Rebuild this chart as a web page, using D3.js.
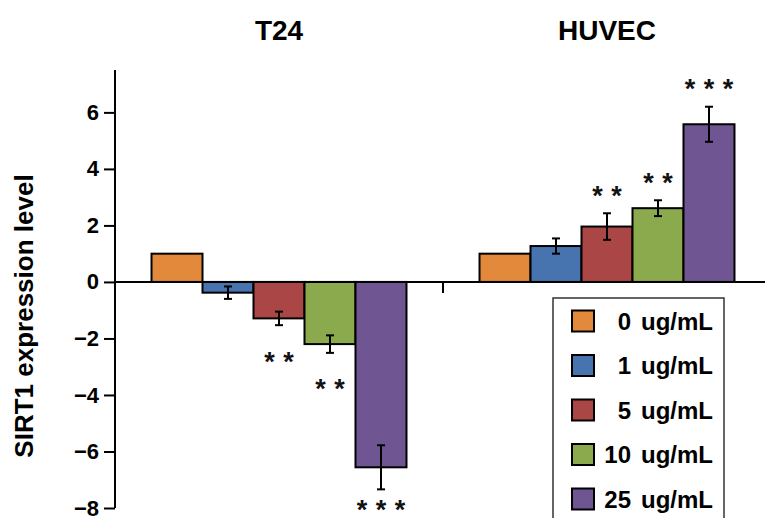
<!DOCTYPE html>
<html>
<head>
<meta charset="utf-8">
<script src="https://cdn.jsdelivr.net/npm/d3@7"></script>
<style>
  html, body { margin: 0; padding: 0; background: #fff; }
  svg { display: block; font-family: "Liberation Sans", Arial, sans-serif; }
</style>
</head>
<body>
<svg id="chart" width="765" height="518"></svg>
<script>
// Cell lines (groups) and treatment doses (series)
const cellLines = ["T24", "HUVEC"];
const doses = ["0", "1", "5", "10", "25"];
const doseUnit = "ug/mL";
const doseColors = ["#E2893C", "#4774AF", "#AA4645", "#8BA94D", "#6F5591"];

// SIRT1 expression level per dose, one array per cell line
const t24Values = [1.0, -0.38, -1.29, -2.2, -6.56];
const t24Errors = [0, 0.22, 0.24, 0.31, 0.78];
const t24Stars = ["", "", "**", "**", "***"];

const huvecValues = [1.0, 1.27, 1.96, 2.61, 5.58];
const huvecErrors = [0, 0.27, 0.47, 0.28, 0.62];
const huvecStars = ["", "", "**", "**", "***"];

const yTicks = [-8, -6, -4, -2, 0, 2, 4, 6];
const yLabel = "SIRT1 expression level";

const groups = [
  { name: "T24", values: t24Values, errors: t24Errors, stars: t24Stars },
  { name: "HUVEC", values: huvecValues, errors: huvecErrors, stars: huvecStars }
];

const W = 765, H = 518;
const svg = d3.select("#chart");

const plot = { left: 115, right: 771, top: 70, bottom: 508 };

const x0 = d3.scaleBand().domain(cellLines).range([plot.left, plot.right]).padding(0);
const x1 = d3.scaleBand().domain(doses).range([0, x0.bandwidth()])
  .paddingInner(0).paddingOuter(0.716);
const y = d3.scaleLinear().domain([-8, 7.5]).range([plot.bottom, plot.top]);

// Bars
const g = svg.append("g");
groups.forEach(grp => {
  const gx = x0(grp.name);
  const rows = doses.map((d, i) => ({
    dose: d, value: grp.values[i], err: grp.errors[i], star: grp.stars[i], color: doseColors[i]
  }));

  g.selectAll(null).data(rows).enter().append("rect")
    .attr("x", d => gx + x1(d.dose))
    .attr("width", x1.bandwidth())
    .attr("y", d => y(Math.max(0, d.value)))
    .attr("height", d => Math.abs(y(d.value) - y(0)))
    .attr("fill", d => d.color)
    .attr("stroke", "#000")
    .attr("stroke-width", 2);

  // Error bars
  const eb = rows.filter(d => d.err > 0);
  const cx = d => gx + x1(d.dose) + x1.bandwidth() / 2;
  g.selectAll(null).data(eb).enter().append("line")
    .attr("x1", cx).attr("x2", cx)
    .attr("y1", d => y(d.value - d.err)).attr("y2", d => y(d.value + d.err))
    .attr("stroke", "#000").attr("stroke-width", 2);
  [-1, 1].forEach(s => {
    g.selectAll(null).data(eb).enter().append("line")
      .attr("x1", d => cx(d) - 4).attr("x2", d => cx(d) + 4)
      .attr("y1", d => y(d.value + s * d.err)).attr("y2", d => y(d.value + s * d.err))
      .attr("stroke", "#000").attr("stroke-width", 2);
  });

  // Significance asterisks, kept inside the canvas
  const starSize = 27;
  rows.filter(d => d.star).forEach(d => {
    const n = d.star.length;
    const neg = d.value < 0;
    const end = y(d.value + (neg ? -d.err : d.err));
    const vc = neg ? Math.min(end + 30, H - 14) : end - 24;   // visual centre of the asterisks
    for (let k = 0; k < n; k++) {
      g.append("text")
        .attr("x", cx(d) + (k - (n - 1) / 2) * 19)
        .attr("y", vc + starSize * 0.57)
        .attr("text-anchor", "middle")
        .attr("font-size", starSize)
        .attr("font-weight", "bold")
        .attr("fill", "#111")
        .text("*");
    }
  });
});

// Zero baseline with group separator tick
svg.append("line")
  .attr("x1", plot.left).attr("x2", plot.right)
  .attr("y1", y(0)).attr("y2", y(0))
  .attr("stroke", "#000").attr("stroke-width", 2);
svg.append("line")
  .attr("x1", x0("HUVEC")).attr("x2", x0("HUVEC"))
  .attr("y1", y(0)).attr("y2", y(0) + 11)
  .attr("stroke", "#000").attr("stroke-width", 2);

// Y axis
const yAxis = d3.axisLeft(y).tickValues(yTicks).tickSize(11).tickPadding(5).tickFormat(d3.format("d"));
const ya = svg.append("g").attr("transform", `translate(${plot.left},0)`).call(yAxis);
ya.select(".domain").attr("stroke", "#000").attr("stroke-width", 2)
  .attr("d", `M0,${plot.top}V${plot.bottom}`);
ya.selectAll(".tick line").attr("stroke", "#000").attr("stroke-width", 2);
ya.selectAll(".tick text")
  .attr("font-size", 22).attr("font-weight", "bold").attr("fill", "#000")
  .attr("font-family", "Liberation Sans, Arial, sans-serif");

// Y axis title
svg.append("text")
  .attr("transform", `translate(33,316) rotate(-90)`)
  .attr("text-anchor", "middle")
  .attr("font-size", 26)
  .attr("font-weight", "bold")
  .attr("fill", "#000")
  .text(yLabel);

// Group titles
svg.selectAll(".gtitle").data(cellLines).enter().append("text")
  .attr("class", "gtitle")
  .attr("x", d => x0(d) + x0.bandwidth() / 2)
  .attr("y", 40)
  .attr("text-anchor", "middle")
  .attr("font-size", 28)
  .attr("font-weight", "bold")
  .attr("fill", "#000")
  .text(d => d);

// Legend
const lg = svg.append("g");
lg.append("rect")
  .attr("x", 553).attr("y", 298).attr("width", 171).attr("height", 240)
  .attr("fill", "#fff").attr("stroke", "#333").attr("stroke-width", 1.5);
const rowY = d3.scalePoint().domain(doses).range([321, 499]);
doses.forEach((d, i) => {
  lg.append("rect")
    .attr("x", 572).attr("y", rowY(d) - 10.5).attr("width", 22).attr("height", 21)
    .attr("fill", doseColors[i]).attr("stroke", "#000").attr("stroke-width", 2);
  lg.append("text")
    .attr("x", 631).attr("y", rowY(d) + 8.5)
    .attr("text-anchor", "end")
    .attr("font-size", 24).attr("font-weight", "bold").attr("fill", "#000")
    .text(d);
  lg.append("text")
    .attr("x", 641).attr("y", rowY(d) + 8.5)
    .attr("font-size", 24).attr("font-weight", "bold").attr("fill", "#000")
    .text(doseUnit);
});
</script>
</body>
</html>
